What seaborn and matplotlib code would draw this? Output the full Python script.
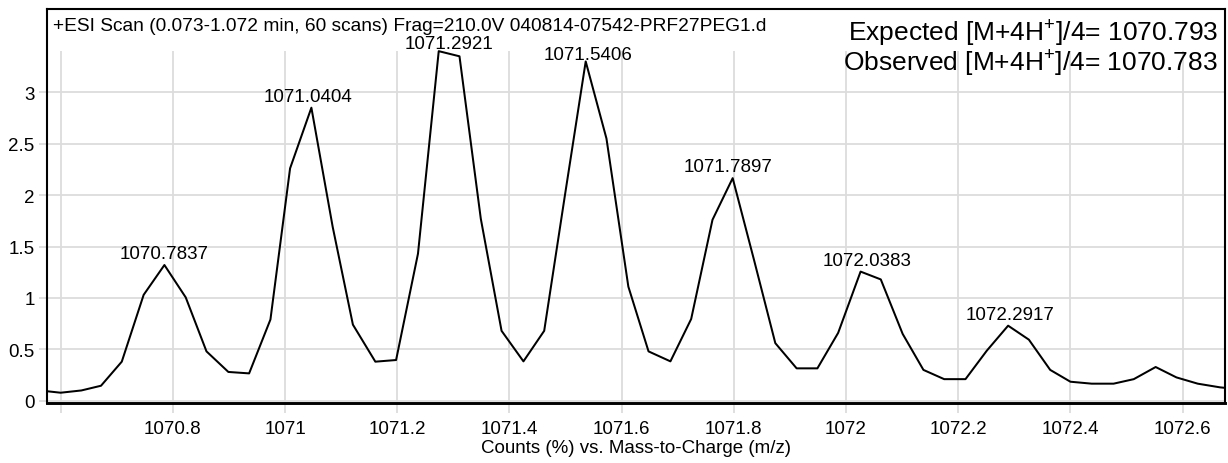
import matplotlib
matplotlib.use("Agg")
import matplotlib.pyplot as plt
import seaborn as sns
import pandas as pd

# m/z sampling points and intensities (counts, %)
mz = [1070.563, 1070.600, 1070.637, 1070.672, 1070.709, 1070.748, 1070.785, 1070.823,
      1070.860, 1070.899, 1070.936, 1070.974, 1071.009, 1071.047, 1071.085, 1071.121,
      1071.161, 1071.198, 1071.237, 1071.274, 1071.311, 1071.349, 1071.386, 1071.425,
      1071.462, 1071.499, 1071.536, 1071.573, 1071.612, 1071.648, 1071.687, 1071.724,
      1071.762, 1071.798, 1071.836, 1071.874, 1071.912, 1071.949, 1071.986, 1072.026,
      1072.062, 1072.101, 1072.138, 1072.175, 1072.213, 1072.251, 1072.289, 1072.326,
      1072.364, 1072.400, 1072.438, 1072.477, 1072.513, 1072.552, 1072.589, 1072.627,
      1072.667, 1072.704]
counts = [0.10, 0.078, 0.10, 0.146, 0.38, 1.03, 1.32, 1.005, 0.48, 0.28, 0.266, 0.79,
          2.26, 2.85, 1.69, 0.74, 0.38, 0.396, 1.43, 3.40, 3.35, 1.77, 0.68, 0.383,
          0.68, 2.0, 3.30, 2.55, 1.11, 0.48, 0.383, 0.795, 1.76, 2.165, 1.37, 0.56,
          0.315, 0.315, 0.66, 1.256, 1.18, 0.65, 0.30, 0.21, 0.21, 0.487, 0.73, 0.594,
          0.30, 0.185, 0.166, 0.166, 0.21, 0.328, 0.227, 0.166, 0.13, 0.11]

# labelled isotope peaks
peak_labels = [1070.7837, 1071.0404, 1071.2921, 1071.5406, 1071.7897, 1072.0383, 1072.2917]
label_gap_px = [7, 6.3, 2.7, 2.7, 7, 7, 6.7]

x_ticks = [1070.6, 1070.8, 1071.0, 1071.2, 1071.4, 1071.6, 1071.8, 1072.0, 1072.2, 1072.4, 1072.6]
x_tick_labels = ["", "1070.8", "1071", "1071.2", "1071.4", "1071.6", "1071.8", "1072",
                 "1072.2", "1072.4", "1072.6"]
y_ticks = [0, 0.5, 1, 1.5, 2, 2.5, 3]
y_tick_labels = ["0", "0.5", "1", "1.5", "2", "2.5", "3"]

scan_title = "+ESI Scan (0.073-1.072 min, 60 scans) Frag=210.0V 040814-07542-PRF27PEG1.d"
expected_text = r"Expected [M+4H$^{\mathregular{+}}$]/4= 1070.793"
observed_text = r"Observed [M+4H$^{\mathregular{+}}$]/4= 1070.783"
x_label = "Counts (%) vs. Mass-to-Charge (m/z)"

sns.set_style("white")
plt.rcParams["font.family"] = ["Liberation Sans", "DejaVu Sans"]
plt.rcParams["mathtext.fontset"] = "custom"
plt.rcParams["mathtext.rm"] = "Liberation Sans"
plt.rcParams["text.color"] = "black"
plt.rcParams["axes.labelcolor"] = "black"

W, H = 1228, 464
AX_L, AX_R, AX_T, AX_B = 47, 1225, 10, 404
AX_W, AX_H = AX_R - AX_L, AX_B - AX_T
fig = plt.figure(figsize=(W / 100, H / 100), dpi=100)
ax = fig.add_axes([AX_L / W, 1 - AX_B / H, AX_W / W, AX_H / H])

df = pd.DataFrame({"mz": mz, "counts": counts})
sns.lineplot(data=df, x="mz", y="counts", ax=ax, color="black", linewidth=1.45,
             estimator=None, sort=False, zorder=3)

ax.set_xlim(1070.5757, 1072.6756)
ax.set_ylim(-0.022, 3.81)

grid_color = "#dcdcdc"
# horizontal grid across the full width
for yt in y_ticks:
    ax.axhline(yt, color=grid_color, linewidth=1.3, zorder=1)
# vertical grid up to the top of the data
ax.vlines(x_ticks, ax.get_ylim()[0], max(counts), color=grid_color, linewidth=1.3, zorder=1)

ax.set_xticks(x_ticks)
ax.set_xticklabels(x_tick_labels)
ax.set_yticks(y_ticks)
ax.set_yticklabels(y_tick_labels)
ax.tick_params(axis="x", which="major", length=7, width=1.3, color=grid_color,
               labelcolor="black", labelsize=13.5, pad=5, direction="out", bottom=True)
ax.tick_params(axis="y", which="major", length=6, width=1.3, color=grid_color,
               labelcolor="black", labelsize=13.5, pad=3, direction="out", left=True)

ax.set_xlabel(x_label, fontsize=13.5, labelpad=2)
ax.set_ylabel("")

for side in ["top", "right", "left"]:
    ax.spines[side].set_visible(True)
    ax.spines[side].set_color("black")
    ax.spines[side].set_linewidth(1.5)
ax.spines["bottom"].set_color("black")
ax.spines["bottom"].set_linewidth(2.1)

# peak annotations: baseline of each label sits a few pixels above the apex
for lab, gap in zip(peak_labels, label_gap_px):
    near = [c for m, c in zip(mz, counts) if abs(m - lab) < 0.025]
    ax.annotate(f"{lab:.4f}", xy=(lab, max(near)), xytext=(0, gap * 0.72),
                textcoords="offset points", ha="center", va="baseline",
                fontsize=13.5, zorder=4)


def px_to_axes(px_x, px_y):
    """Figure pixel position (from top-left) to axes fraction."""
    return (px_x - AX_L) / AX_W, (AX_B - px_y) / AX_H


tx, ty = px_to_axes(53, 31)
ax.text(tx, ty, scan_title, transform=ax.transAxes, ha="left", va="baseline",
        fontsize=13.8)
ex, ey = px_to_axes(1218, 41)
ax.text(ex, ey, expected_text, transform=ax.transAxes, ha="right", va="baseline",
        fontsize=19)
ox, oy = px_to_axes(1218, 71)
ax.text(ox, oy, observed_text, transform=ax.transAxes, ha="right", va="baseline",
        fontsize=19)

fig.savefig("out.png", dpi=100)
